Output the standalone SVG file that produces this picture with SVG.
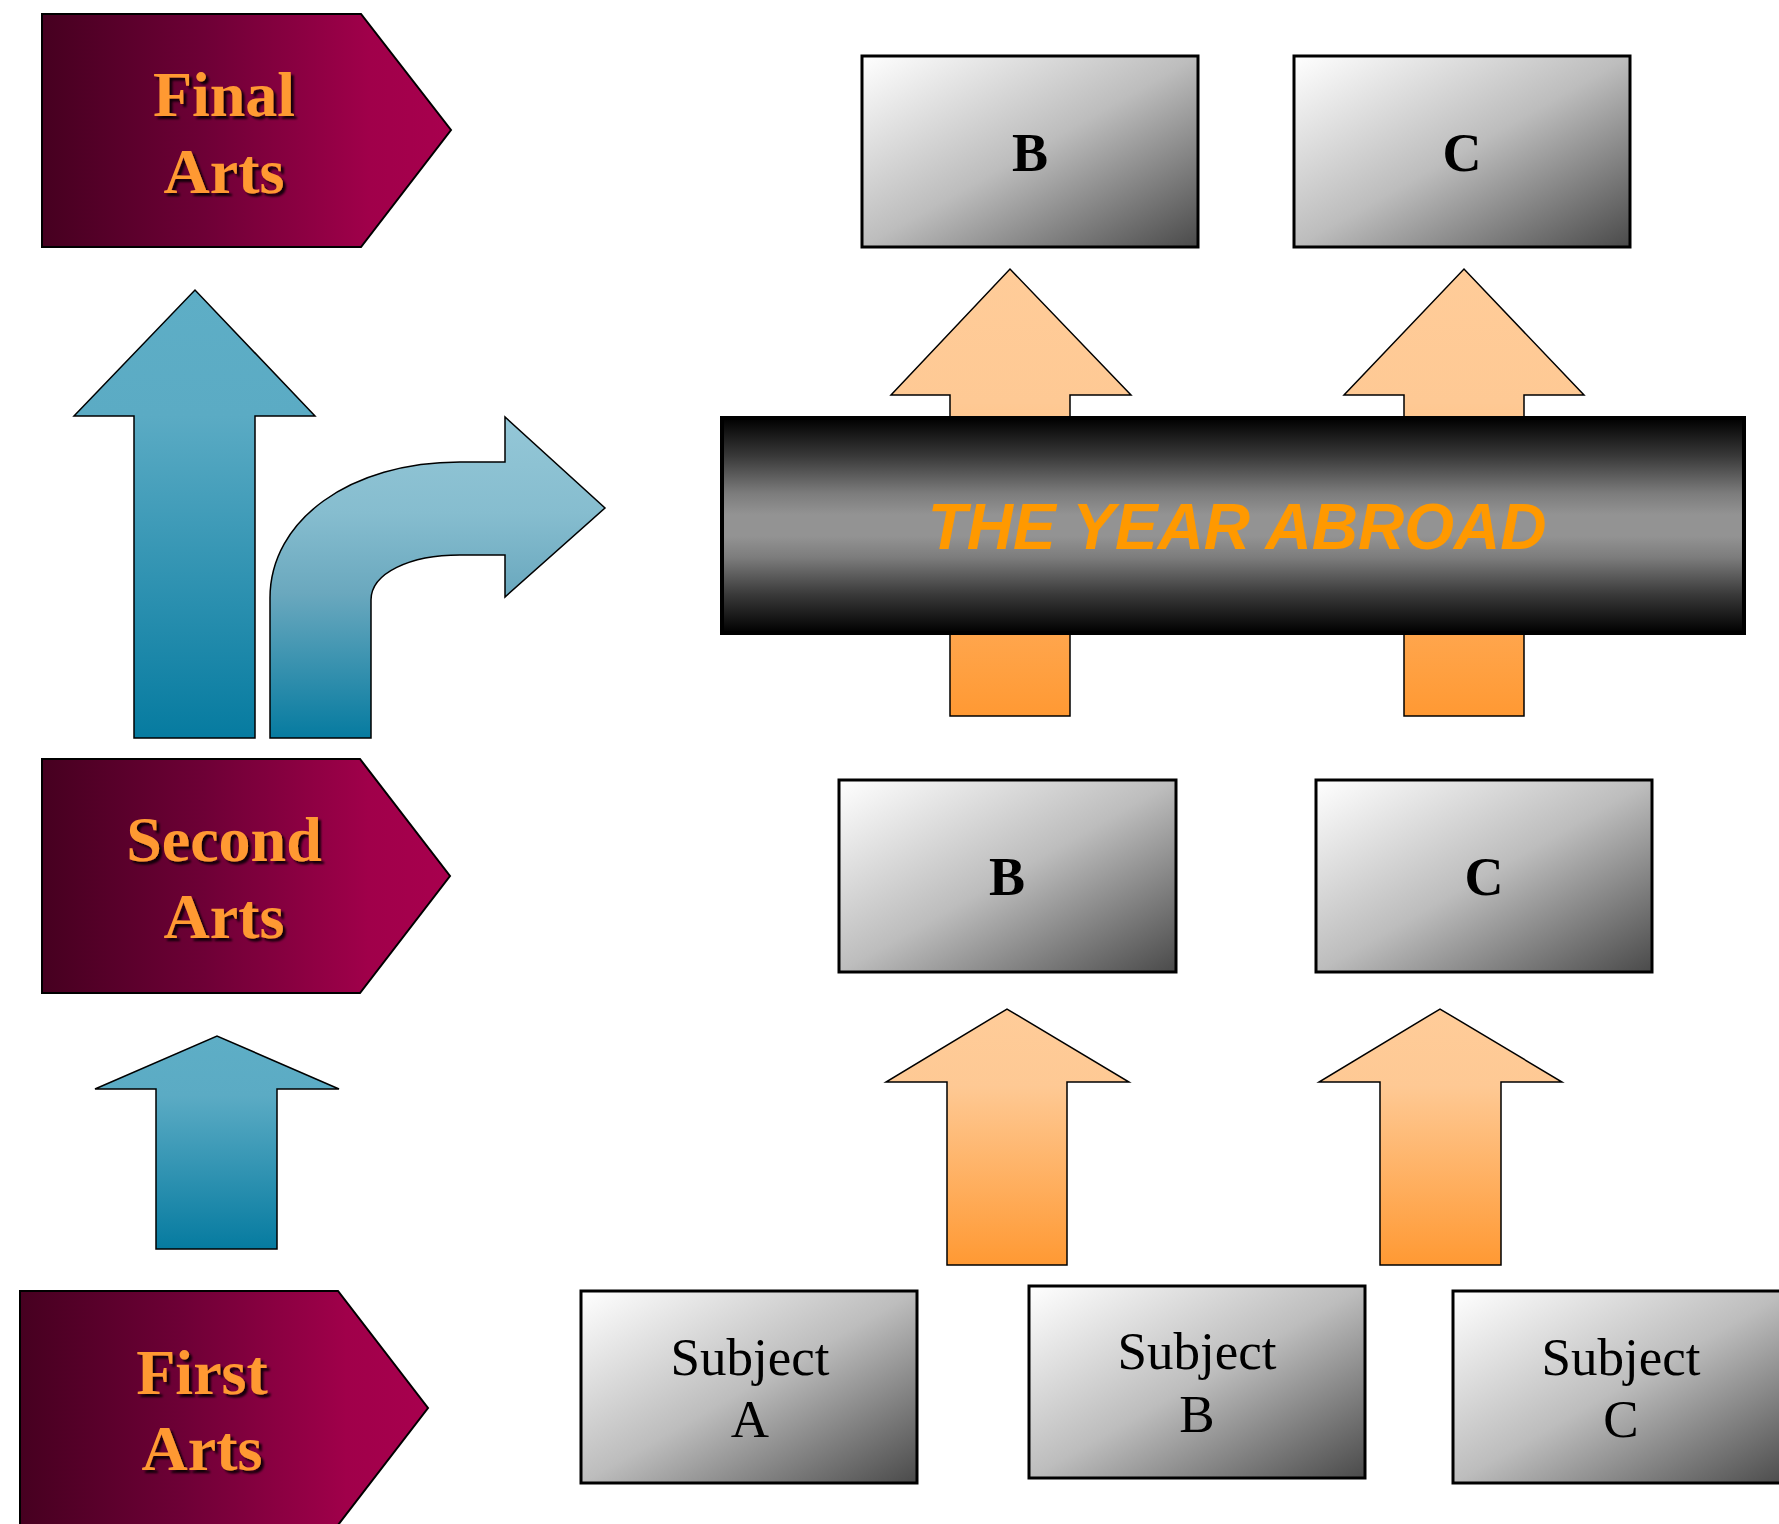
<svg xmlns="http://www.w3.org/2000/svg" width="1779" height="1524" viewBox="0 0 1779 1524">
<defs>
<linearGradient id="gPent" x1="0" y1="0" x2="1" y2="0">
<stop offset="0" stop-color="#460020"/>
<stop offset="0.4" stop-color="#6E0036"/>
<stop offset="0.8" stop-color="#A0004A"/>
<stop offset="1" stop-color="#A8004E"/>
</linearGradient>
<linearGradient id="gBox" x1="0" y1="0" x2="1" y2="1">
<stop offset="0" stop-color="#FFFFFF"/>
<stop offset="0.5" stop-color="#BDBDBD"/>
<stop offset="1" stop-color="#4A4A4A"/>
</linearGradient>
<linearGradient id="gBar" x1="0" y1="0" x2="0" y2="1">
<stop offset="0" stop-color="#000000"/>
<stop offset="0.18" stop-color="#3A3A3A"/>
<stop offset="0.35" stop-color="#7C7C7C"/>
<stop offset="0.45" stop-color="#939393"/>
<stop offset="0.55" stop-color="#939393"/>
<stop offset="0.65" stop-color="#7C7C7C"/>
<stop offset="0.82" stop-color="#3A3A3A"/>
<stop offset="1" stop-color="#000000"/>
</linearGradient>
<linearGradient id="gOrange" x1="0" y1="0" x2="0" y2="1">
<stop offset="0" stop-color="#FFCC99"/>
<stop offset="0.3" stop-color="#FEC994"/>
<stop offset="1" stop-color="#FF9933"/>
</linearGradient>
<linearGradient id="gBlue" x1="0" y1="0" x2="0" y2="1">
<stop offset="0" stop-color="#5EAEC6"/>
<stop offset="0.28" stop-color="#5BABC4"/>
<stop offset="1" stop-color="#067BA0"/>
</linearGradient>
<linearGradient id="gBlueCurve" x1="0" y1="0" x2="0" y2="1">
<stop offset="0" stop-color="#94C7D7"/>
<stop offset="0.3" stop-color="#86BDCF"/>
<stop offset="0.55" stop-color="#6AA8BE"/>
<stop offset="1" stop-color="#067BA0"/>
</linearGradient>
<filter id="shadow" x="-10%" y="-10%" width="130%" height="130%">
<feDropShadow dx="3" dy="3" stdDeviation="1" flood-color="#000000" flood-opacity="0.85"/>
</filter>
</defs>
<style>
.pent{fill:url(#gPent);stroke:#000;stroke-width:2}
.box{fill:url(#gBox);stroke:#000;stroke-width:3}
.arts{font-family:"Liberation Serif","Times New Roman",serif;font-weight:bold;font-size:64px;fill:#FF9933;text-anchor:middle;filter:url(#shadow)}
.lbl{font-family:"Liberation Serif","Times New Roman",serif;font-weight:bold;font-size:54px;fill:#000;text-anchor:middle}
.subj{font-family:"Liberation Serif","Times New Roman",serif;font-size:53px;fill:#000;text-anchor:middle}
.orange{fill:url(#gOrange);stroke:#000;stroke-width:1.5}
.blue{fill:url(#gBlue);stroke:#000;stroke-width:1.5}
.bluec{fill:url(#gBlueCurve);stroke:#000;stroke-width:1.5}
</style>
<rect width="1779" height="1524" fill="#FFFFFF"/>

<g id="connectors">
<path id="arrow-final" class="blue" d="M134,738 L134,416 L74,416 L195,290 L315,416 L255,416 L255,738 Z"/>
<path id="arrow-abroad" class="bluec" d="M270,738 L270,598 C270,520 350,462 460,462 L505,462 L505,417 L605,508 L505,597 L505,555 L460,555 C410,555 371,573 371,600 L371,738 Z"/>
<path id="arrow-second" class="blue" d="M156,1249 L156,1089 L95,1089 L217,1036 L339,1089 L277,1089 L277,1249 Z"/>
<path id="arrow-top-b" class="orange" d="M950,716 L950,395 L891,395 L1010,269 L1131,395 L1070,395 L1070,716 Z"/>
<path id="arrow-top-c" class="orange" d="M1404,716 L1404,395 L1344,395 L1464,269 L1584,395 L1524,395 L1524,716 Z"/>
<path id="arrow-low-b" class="orange" d="M947,1265 L947,1082 L886,1082 L1007,1009 L1129,1082 L1067,1082 L1067,1265 Z"/>
<path id="arrow-low-c" class="orange" d="M1380,1265 L1380,1082 L1319,1082 L1440,1009 L1562,1082 L1501,1082 L1501,1265 Z"/>
</g>

<g id="final-arts">
<path class="pent" d="M42,14 L361,14 L451,130 L361,247 L42,247 Z"/>
<text class="arts" x="224" y="116">Final</text>
<text class="arts" x="224" y="193">Arts</text>
</g>

<g id="second-arts">
<path class="pent" d="M42,759 L360,759 L450,876 L360,993 L42,993 Z"/>
<text class="arts" x="224" y="861">Second</text>
<text class="arts" x="224" y="938">Arts</text>
</g>

<g id="first-arts">
<path class="pent" d="M20,1291 L338,1291 L428,1408 L338,1525 L20,1525 Z"/>
<text class="arts" x="202" y="1394">First</text>
<text class="arts" x="202" y="1470">Arts</text>
</g>

<g id="year-abroad">
<rect x="722" y="418" width="1022" height="215" fill="url(#gBar)" stroke="#000" stroke-width="4"/>
<text x="1237" y="549" font-family="'Liberation Sans',Arial,sans-serif" font-weight="bold" font-style="italic" font-size="64" fill="#FF9900" text-anchor="middle">THE YEAR ABROAD</text>
</g>

<g id="final-b">
<rect class="box" x="862" y="56" width="336" height="191"/>
<text class="lbl" x="1030" y="171">B</text>
</g>
<g id="final-c">
<rect class="box" x="1294" y="56" width="336" height="191"/>
<text class="lbl" x="1462" y="171">C</text>
</g>

<g id="second-b">
<rect class="box" x="839" y="780" width="337" height="192"/>
<text class="lbl" x="1007" y="895">B</text>
</g>
<g id="second-c">
<rect class="box" x="1316" y="780" width="336" height="192"/>
<text class="lbl" x="1484" y="895">C</text>
</g>

<g id="subject-a">
<rect class="box" x="581" y="1291" width="336" height="192"/>
<text class="subj" x="750" y="1375">Subject</text>
<text class="subj" x="750" y="1437">A</text>
</g>
<g id="subject-b">
<rect class="box" x="1029" y="1286" width="336" height="192"/>
<text class="subj" x="1197" y="1369">Subject</text>
<text class="subj" x="1197" y="1432">B</text>
</g>
<g id="subject-c">
<rect class="box" x="1453" y="1291" width="336" height="192"/>
<text class="subj" x="1621" y="1375">Subject</text>
<text class="subj" x="1621" y="1437">C</text>
</g>
</svg>
